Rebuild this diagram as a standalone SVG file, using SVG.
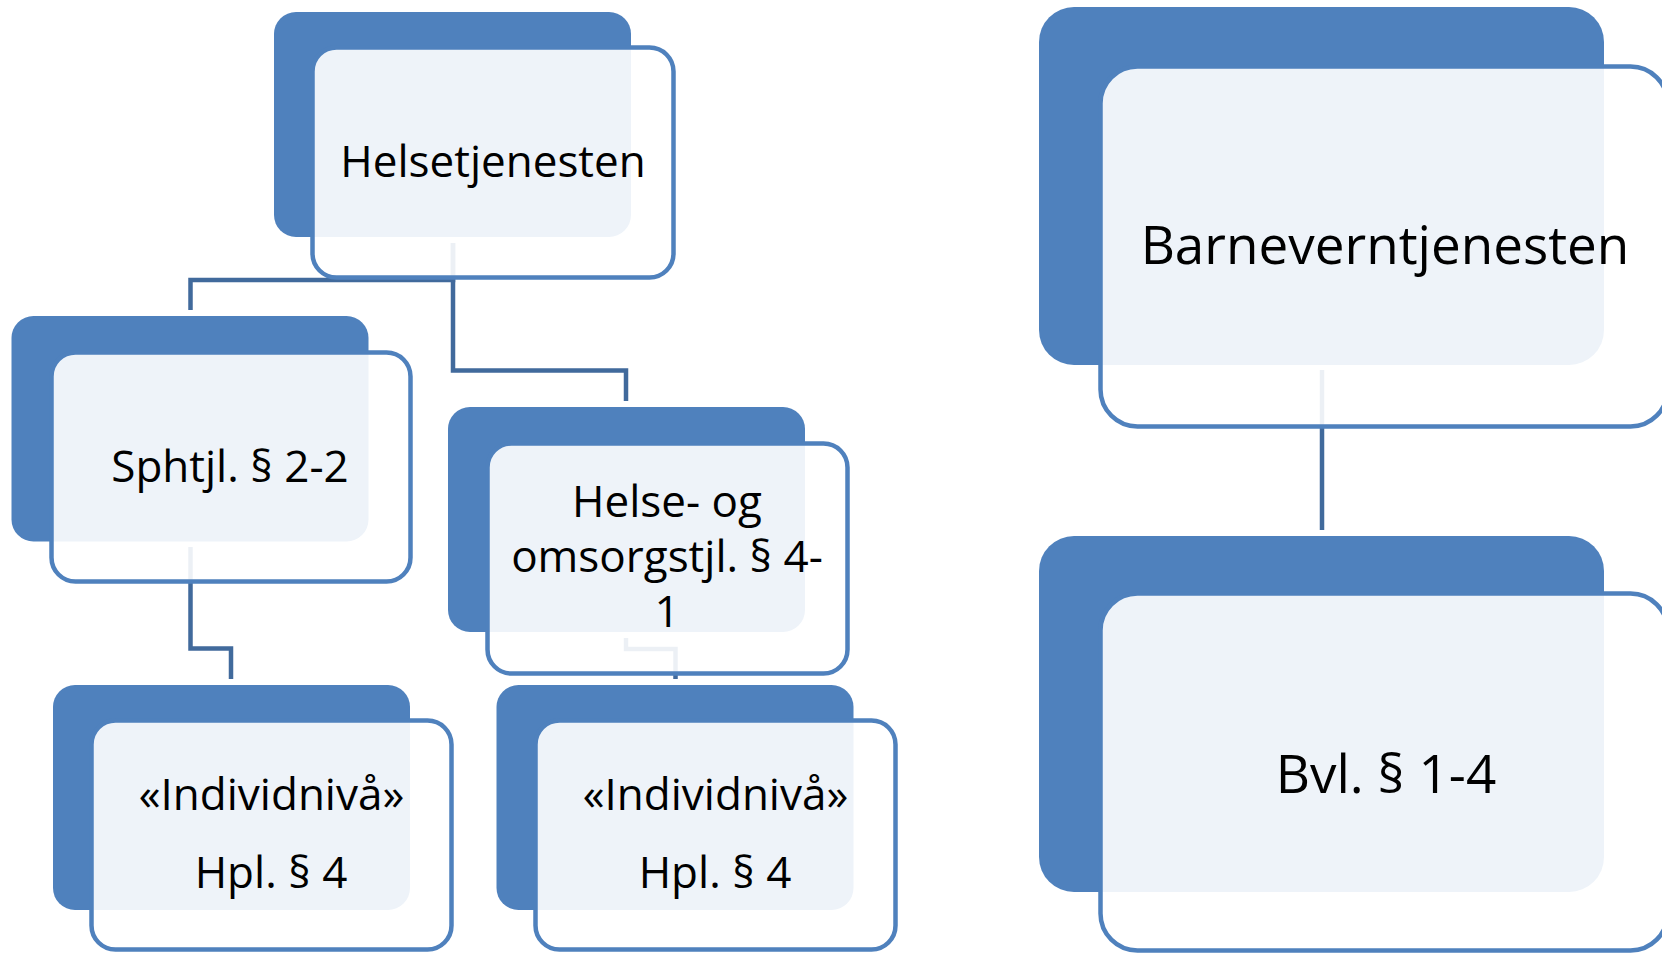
<svg xmlns="http://www.w3.org/2000/svg" width="1662" height="953" viewBox="0 0 1662 953">
<style>
.dark{fill:#4F81BD;stroke:none}
.light{fill:#FFFFFF;fill-opacity:0.9;stroke:#4F81BD;stroke-width:4.5}
.conn{fill:none;stroke:#416A9C;stroke-width:4.5;stroke-linejoin:miter}
.t{font-family:"Open Sans","Noto Sans","DejaVu Sans",sans-serif;font-size:44px;fill:#000000;text-anchor:middle}
.tl{font-size:53px}
</style>
<rect width="1662" height="953" fill="#FFFFFF"/>
<g id="connectors">
<path class="conn" d="M453,243 V280 H190.5 V310"/>
<path class="conn" d="M453,243 V370.5 H626 V401"/>
<path class="conn" d="M190.5,547 V648.5 H231 V679"/>
<path class="conn" d="M626,638 V649 H675.5 V679"/>
<path class="conn" d="M1322,370 V530"/>
</g>
<g id="helsetjenesten">
<rect class="dark" x="274" y="12" width="357" height="225" rx="22"/>
<rect class="light" x="312.5" y="47.5" width="361" height="230" rx="24"/>
<text class="t" x="493" y="177">Helsetjenesten</text>
</g>
<g id="sphtjl">
<rect class="dark" x="11.5" y="316" width="357" height="225.5" rx="22"/>
<rect class="light" x="51.5" y="352.5" width="359" height="229" rx="24"/>
<text class="t" x="230" y="482">Sphtjl. § 2-2</text>
</g>
<g id="helse-og-omsorg">
<rect class="dark" x="448" y="407" width="357" height="225" rx="22"/>
<rect class="light" x="487.5" y="443.5" width="360" height="230" rx="24"/>
<text class="t" x="667" y="517">Helse- og</text>
<text class="t" x="667" y="572">omsorgstjl. § 4-</text>
<text class="t" x="667" y="627">1</text>
</g>
<g id="individ-left">
<rect class="dark" x="53" y="685" width="357" height="225" rx="22"/>
<rect class="light" x="91.5" y="720.5" width="360" height="229" rx="24"/>
<text class="t" x="271.5" y="810">«Individnivå»</text>
<text class="t" x="271" y="888">Hpl. § 4</text>
</g>
<g id="individ-right">
<rect class="dark" x="496.5" y="685" width="357" height="225" rx="22"/>
<rect class="light" x="535.5" y="720.5" width="360" height="229" rx="24"/>
<text class="t" x="715.5" y="810">«Individnivå»</text>
<text class="t" x="715" y="888">Hpl. § 4</text>
</g>
<g id="barneverntjenesten">
<rect class="dark" x="1039" y="7" width="565" height="358" rx="35"/>
<rect class="light" x="1100.5" y="66.5" width="567" height="360" rx="37"/>
<text class="t tl" x="1385" y="264">Barneverntjenesten</text>
</g>
<g id="bvl">
<rect class="dark" x="1039" y="536" width="565" height="356" rx="35"/>
<rect class="light" x="1100.5" y="593.5" width="567" height="357" rx="37"/>
<text class="t tl" x="1386" y="793">Bvl. § 1-4</text>
</g>
</svg>
